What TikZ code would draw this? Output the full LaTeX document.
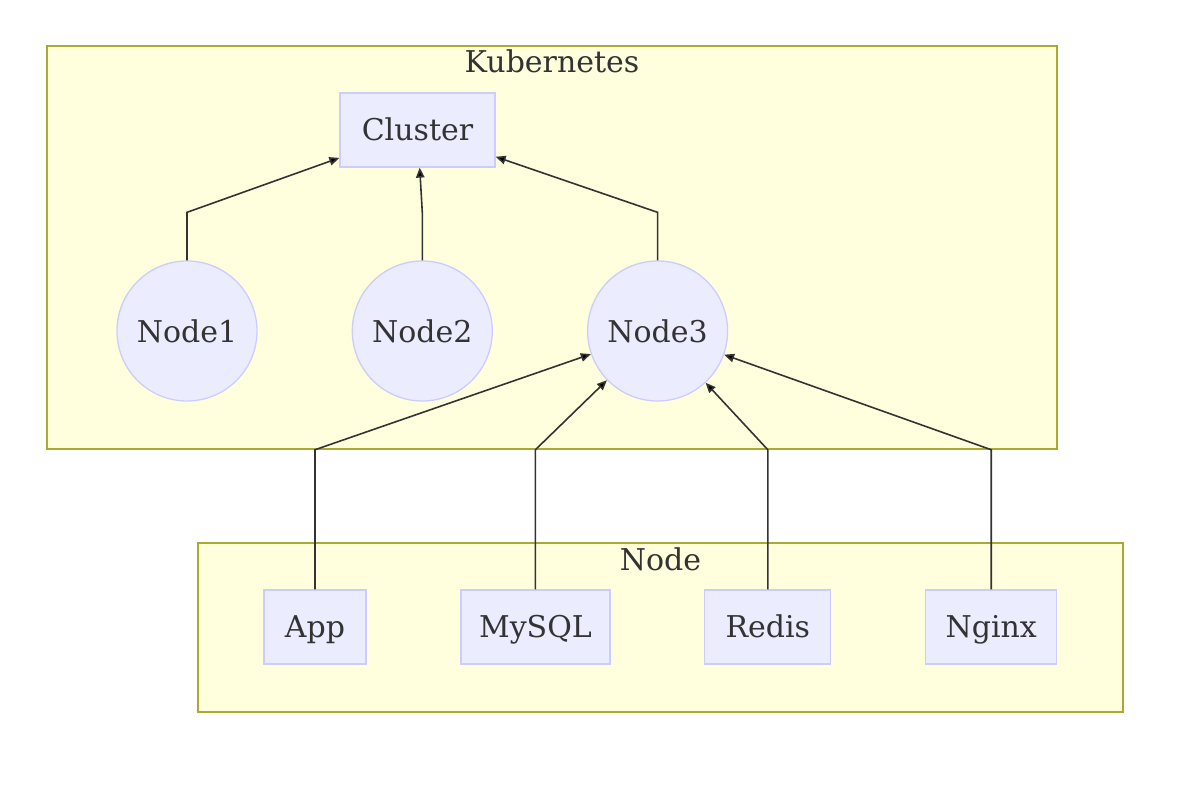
\documentclass[tikz,border=0pt]{standalone}
\usepackage{fontspec}
\setmainfont{DejaVu Serif}
\usetikzlibrary{positioning,arrows.meta}
\definecolor{frame-bg}{HTML}{FFFFDE}
\definecolor{frame-line}{HTML}{AAAA33}
\definecolor{node-bg}{HTML}{ECECFF}
\definecolor{node-line}{HTML}{CCCCFF}
\definecolor{ink}{HTML}{333333}

\begin{document}
\begin{tikzpicture}[
  x=0.5pt, y=-0.5pt,
  every node/.style={font=\fontsize{15}{18}\selectfont, text=ink},
  frame/.style={draw=frame-line, fill=frame-bg, line width=0.75pt, inner sep=0pt},
  box/.style={draw=node-line, fill=node-bg, line width=0.65pt, minimum height=37pt,
    inner xsep=0pt, text height=11pt, text depth=0pt, minimum width=#1},
  machine/.style={circle, draw=node-line, fill=node-bg, line width=0.65pt, minimum size=70pt, inner sep=0pt},
  link/.style={draw=ink, line width=0.8pt, -{Triangle[length=5pt,width=4.2pt,fill=black]}},
  ]
  \useasboundingbox (0,0) rectangle (1200,795);

  % subgraph frames
  \node [frame, minimum width=505pt, minimum height=201.5pt] (k8s-frame) at (552,247.5) {};
  \node [yshift=-8pt] (k8s-title) at (k8s-frame.north) {Kubernetes};
  \node [frame, minimum width=462.5pt, minimum height=84.5pt] (node-frame) at (660.5,627.5) {};
  \node [yshift=-8.5pt] (node-title) at (node-frame.north) {Node};

  % kubernetes side
  \node [box=77.5pt] (cluster) at (417.5,130) {Cluster};
  \node [machine] (node1) at (187,331) {Node1};
  \node [machine, right=47pt of node1] (node2) {Node2};
  \node [machine, right=47pt of node2] (node3) {Node3};

  % services
  \node [box=51pt] (app) at (315,627) {App};
  \node [box=74.5pt, right=46.8pt of app] (mysql) {MySQL};
  \node [box=63pt, right=46.8pt of mysql] (redis) {Redis};
  \node [box=65.5pt, right=46.8pt of redis] (nginx) {Nginx};

  \draw [link] (node1.north) -- ++(0,-48) -- (cluster);
  \draw [link] (node2.north) -- ++(0,-48) -- (cluster);
  \draw [link] (node3.north) -- ++(0,-48) -- (cluster);

  \draw [link] (app.north) -- (app.north |- k8s-frame.south) -- (node3);
  \draw [link] (mysql.north) -- (mysql.north |- k8s-frame.south) -- (node3);
  \draw [link] (redis.north) -- (redis.north |- k8s-frame.south) -- (node3);
  \draw [link] (nginx.north) -- (nginx.north |- k8s-frame.south) -- (node3);

\end{tikzpicture}
\end{document}
